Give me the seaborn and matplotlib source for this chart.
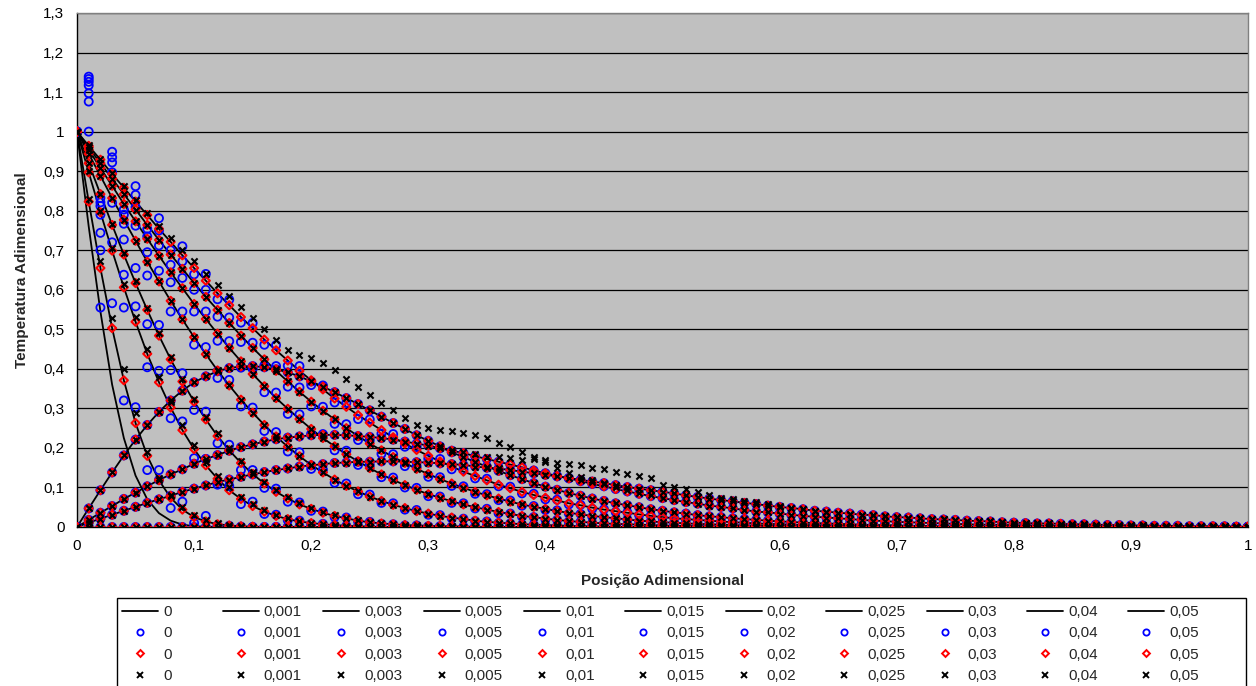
import numpy as np
import pandas as pd
import matplotlib
matplotlib.use("Agg")
import matplotlib.pyplot as plt
from matplotlib.lines import Line2D
from matplotlib.patches import Rectangle
import seaborn as sns

sns.set_theme(style="white")
plt.rcParams["font.family"] = ["Liberation Sans", "DejaVu Sans"]

N_NODES = 101
POS = np.round(np.linspace(0.0, 1.0, N_NODES), 2)

TIME_LABELS = ["0", "0,001", "0,003", "0,005", "0,01", "0,015",
               "0,02", "0,025", "0,03", "0,04", "0,05"]

# ---- analytic profiles (nodes 0.00, 0.01, 0.02, ... ; omitted tail = 0) ----
EXACT_T0 = [1, .76, .545, .36, .225, .13, .07, .035, .016, .006, .002, .001]
EXACT_T001 = [1, .823, .655, .503, .371, .263, .180, .118, .074, .044, .025, .014,
              .007, .004, .002, .001]
EXACT_T003 = [1, .897, .796, .699, .606, .519, .438, .366, .302, .245, .197, .156,
              .122, .093, .071, .053, .039, .028, .020, .014, .010, .007, .005, .003,
              .002, .001]
EXACT_T005 = [1, .920, .842, .764, .689, .617, .549, .484, .424, .368, .317, .272,
              .230, .194, .162, .134, .110, .089, .072, .057, .046, .036, .028, .022,
              .016, .012, .009, .007, .005, .004, .003, .002, .002, .001, .001]
EXACT_T01 = [1, .944, .888, .832, .777, .724, .671, .621, .572, .525, .480, .437,
             .396, .358, .322, .289, .258, .229, .203, .179, .157, .138, .120, .104,
             .090, .077, .066, .056, .048, .040, .034, .028, .024, .020, .016, .013,
             .011, .009, .007, .006, .005, .004, .003, .002, .002, .001, .001]
EXACT_T015 = [1, .954, .908, .863, .817, .773, .729, .686, .644, .604, .564, .526,
              .489, .453, .419, .387, .356, .326, .299, .273, .248, .225, .204, .184,
              .166, .149, .133, .119, .106, .094, .083, .074, .065, .057, .050, .044,
              .038, .033, .028, .025, .021, .018, .015, .013, .011, .009, .008, .007,
              .006, .005, .004, .003, .003, .002, .002, .001, .001, .001]
EXACT_T02 = [1, .960, .920, .881, .842, .803, .764, .726, .689, .653, .617, .582,
             .549, .516, .484, .453, .424, .395, .368, .342, .317, .294, .272, .250,
             .230, .211, .194, .177, .162, .147, .134, .121, .110, .099, .089, .080,
             .072, .064, .057, .051, .046, .040, .036, .032, .028, .025, .022, .019,
             .016, .014, .012, .011, .009, .008, .007, .006, .005, .004, .004, .003,
             .003, .002, .002, .002, .001, .001, .001]
EXACT_T025 = [1, .964, .929, .893, .858, .823, .789, .754, .721, .687, .655, .623,
              .591, .561, .531, .503, .474, .447, .421, .395, .371, .348, .325, .304,
              .283, .264, .245, .227, .211, .195, .180, .166, .153, .140, .129, .118,
              .107, .098, .089, .081, .074, .067, .060, .055, .049, .044, .040, .036,
              .032, .028, .025, .022, .020, .018, .016, .014, .012, .011, .009, .008,
              .007, .006, .005, .005, .004, .004, .003, .003, .002, .002, .002, .001,
              .001, .001]
EXACT_T03 = [0, .047, .093, .138, .181, .221, .258, .291, .320, .345, .366, .381,
             .394, .402, .406, .407, .404, .399, .391, .381, .368, .355, .341, .326,
             .311, .295, .279, .263, .248, .232, .218, .204, .189, .177, .164, .153,
             .142, .131, .121, .111, .102, .094, .086, .079, .072, .066, .060, .055,
             .050, .045, .041, .037, .034, .030, .027, .025, .022, .020, .018, .016,
             .014, .013, .011, .010, .009, .008, .007, .006, .005, .005, .004, .003,
             .003, .002, .002, .001, .001, .001, .001]
EXACT_T04 = [0, .018, .036, .053, .071, .087, .103, .119, .133, .146, .160, .172,
             .182, .193, .202, .209, .216, .222, .226, .229, .232, .233, .233, .232,
             .230, .228, .225, .221, .216, .211, .206, .199, .193, .187, .179, .172,
             .165, .158, .151, .143, .136, .129, .123, .116, .109, .103, .096, .090,
             .084, .078, .073, .068, .063, .059, .054, .051, .047, .043, .039, .037,
             .034, .031, .028, .026, .024, .022, .020, .018, .016, .015, .013, .012,
             .011, .010, .009, .008, .007, .006, .006, .005, .005, .004, .004, .003,
             .003, .002, .002, .002, .001, .001, .001, .001, .001]
EXACT_T05 = [0, .011, .021, .031, .041, .051, .061, .070, .079, .089, .097, .105,
             .114, .120, .127, .133, .139, .144, .148, .153, .156, .159, .162, .163,
             .165, .165, .166, .166, .165, .164, .163, .161, .159, .157, .153, .150,
             .148, .144, .140, .136, .132, .128, .124, .119, .115, .111, .106, .101,
             .097, .093, .089, .085, .080, .076, .072, .068, .065, .061, .058, .054,
             .051, .048, .045, .041, .039, .036, .034, .031, .030, .027, .025, .024,
             .022, .020, .019, .018, .016, .015, .014, .012, .011, .010, .009, .009,
             .008, .007, .007, .006, .005, .005, .004, .004, .003, .003, .003, .002,
             .002, .002, .002, .001, .001]

# ---- explicit scheme (blue circles) ----
EXPL_T0 = [1.0]
EXPL_T001 = [1, 1.0, .555, .566, .32, .303, .144, .144, .048, .064, .01, .028,
             .004, .003, .001]
EXPL_T003 = [1, 1.076, .70, .72, .555, .558, .404, .395, .275, .267, .174, .172,
             .107, .104, .058, .064, .033, .031, .017, .016, .008, .008, .004, .003,
             .001]
EXPL_T005 = [1, 1.097, .744, .82, .638, .655, .513, .511, .397, .389, .296, .292,
             .212, .208, .144, .144, .099, .097, .064, .062, .041, .039, .025, .024,
             .014, .013, .008, .007, .004, .004, .002, .002, .001]
EXPL_T01 = [1, 1.117, .79, .897, .727, .762, .636, .648, .545, .545, .461, .455,
            .377, .372, .305, .302, .243, .24, .191, .189, .147, .145, .112, .11,
            .083, .082, .061, .06, .044, .043, .031, .03, .022, .021, .015, .014,
            .01, .009, .006, .006, .004, .003, .002, .002, .001, .001]
EXPL_T015 = [1, 1.126, .812, .922, .767, .809, .695, .712, .619, .63, .545, .545,
             .471, .47, .403, .40, .341, .34, .286, .285, .236, .235, .194, .193,
             .157, .156, .126, .125, .100, .099, .078, .077, .061, .060, .047, .046,
             .035, .034, .026, .025, .019, .018, .014, .013, .010, .009, .007, .006,
             .005, .004, .003, .003, .002, .002, .001, .001]
EXPL_T02 = [1, 1.133, .821, .935, .79, .84, .735, .75, .663, .672, .60, .60,
            .532, .53, .468, .466, .409, .407, .355, .353, .305, .304, .261, .26,
            .220, .219, .185, .184, .154, .153, .127, .126, .104, .103, .084, .083,
            .068, .067, .054, .053, .043, .042, .034, .033, .026, .025, .020, .019,
            .015, .014, .011, .011, .008, .008, .006, .006, .005, .004, .003, .003,
            .002, .002, .002, .002, .001, .001]
EXPL_T025 = [1, 1.139, .832, .949, .803, .862, .754, .781, .70, .71, .639, .64,
             .576, .575, .517, .516, .461, .46, .408, .407, .359, .358, .315, .314,
             .273, .272, .236, .235, .203, .202, .173, .172, .146, .145, .123, .122,
             .103, .102, .085, .084, .070, .069, .057, .056, .046, .045, .038, .037,
             .030, .029, .024, .023, .019, .018, .015, .014, .012, .011, .009, .008,
             .007, .006, .005, .005, .004, .004, .003, .003, .002, .002, .002, .001,
             .001, .001]
EXPL_T03 = EXACT_T03
EXPL_T04 = EXACT_T04
EXPL_T05 = EXACT_T05

# ---- Crank-Nicolson scheme (red diamonds) ----
CN_T0 = [1.0]
CN_T001, CN_T003, CN_T005 = EXACT_T001, EXACT_T003, EXACT_T005
CN_T01, CN_T015, CN_T02 = EXACT_T01, EXACT_T015, EXACT_T02
CN_T025, CN_T03, CN_T04, CN_T05 = EXACT_T025, EXACT_T03, EXACT_T04, EXACT_T05

# ---- implicit scheme (black crosses) ----
IMPL_T0 = [1.0]
IMPL_T001 = [1, .83, .672, .528, .40, .288, .19, .125, .08, .05, .03, .017, .009,
             .005, .002, .001]
IMPL_T003 = [1, .90, .80, .705, .615, .53, .45, .38, .315, .258, .208, .165, .13,
             .10, .077, .058, .043, .031, .022, .016, .011, .008, .005, .003, .002,
             .001]
IMPL_T005 = [1, .92, .842, .767, .693, .622, .555, .49, .43, .375, .325, .279, .237,
             .20, .168, .14, .115, .094, .076, .061, .049, .039, .03, .024, .018,
             .013, .01, .008, .006, .004, .003, .002, .002, .001, .001]
IMPL_T01, IMPL_T015, IMPL_T02 = EXACT_T01, EXACT_T015, EXACT_T02
IMPL_T025 = [1, .965, .93, .896, .862, .828, .795, .762, .73, .70, .672, .64, .613,
             .583, .556, .528, .50, .473, .448, .435, .427, .414, .397, .374, .354,
             .334, .313, .296, .276, .258, .25, .246, .243, .238, .232, .225, .212,
             .202, .19, .177, .165, .162, .16, .156, .15, .147, .14, .134, .128,
             .123, .106, .10, .095, .088, .08, .074, .07, .066, .062, .058, .052,
             .048, .045, .041, .039, .036, .034, .031, .030, .027, .025, .024,
             .022, .020, .019, .018, .016, .015, .014, .012, .011, .010, .009, .009,
             .008, .007, .007, .006, .005, .005, .004, .004, .003, .003, .003, .002,
             .002, .002, .002, .001, .001]
IMPL_T03 = EXACT_T03
IMPL_T04 = [0, .018, .036, .053, .071, .087, .103, .119, .133, .146, .160, .172,
            .182, .193, .202, .209, .216, .222, .226, .229, .232, .233, .233, .232,
            .230, .228, .225, .221, .216, .211, .206, .200, .196, .190, .185, .178,
            .178, .174, .170, .172, .170, .149, .137, .127, .118, .110, .102, .094,
            .087, .080, .074, .068, .063, .059, .054, .051, .047, .043, .039, .037,
            .034, .031, .028, .026, .024, .022, .020, .018, .016, .015, .013, .012,
            .011, .010, .009, .008, .007, .006, .006, .005, .005, .004, .004, .003,
            .003, .002, .002, .002, .001, .001, .001, .001, .001]
IMPL_T05 = EXACT_T05

EXACT = [EXACT_T0, EXACT_T001, EXACT_T003, EXACT_T005, EXACT_T01, EXACT_T015,
         EXACT_T02, EXACT_T025, EXACT_T03, EXACT_T04, EXACT_T05]
EXPLICIT = [EXPL_T0, EXPL_T001, EXPL_T003, EXPL_T005, EXPL_T01, EXPL_T015,
            EXPL_T02, EXPL_T025, EXPL_T03, EXPL_T04, EXPL_T05]
CRANK = [CN_T0, CN_T001, CN_T003, CN_T005, CN_T01, CN_T015,
         CN_T02, CN_T025, CN_T03, CN_T04, CN_T05]
IMPLICIT = [IMPL_T0, IMPL_T001, IMPL_T003, IMPL_T005, IMPL_T01, IMPL_T015,
            IMPL_T02, IMPL_T025, IMPL_T03, IMPL_T04, IMPL_T05]


def full_profile(values):
    """Nodes past the listed ones carry zero temperature."""
    out = np.zeros(N_NODES)
    out[:len(values)] = values
    return out


def long_table(profiles, kind):
    frames = []
    for label, vals in zip(TIME_LABELS, profiles):
        frames.append(pd.DataFrame({"pos": POS, "temp": full_profile(vals),
                                    "time": label, "kind": kind}))
    return pd.concat(frames, ignore_index=True)


exact_df = long_table(EXACT, "exata")
expl_df = long_table(EXPLICIT, "explicito")
cn_df = long_table(CRANK, "crank")
impl_df = long_table(IMPLICIT, "implicito")

W, H = 1256, 686
fig = plt.figure(figsize=(W / 100, H / 100), dpi=100)
ax = fig.add_axes([77 / W, (H - 527) / H, (1248 - 77) / W, (527 - 13) / H])
ax.set_facecolor("#C0C0C0")

for label in TIME_LABELS:
    sub = exact_df[exact_df["time"] == label]
    sns.lineplot(data=sub, x="pos", y="temp", ax=ax, color="black", lw=1.3,
                 estimator=None, sort=False, legend=False, zorder=3)

sns.scatterplot(data=expl_df, x="pos", y="temp", ax=ax, marker="o", s=34,
                facecolor="none", edgecolor="#0000FF", linewidth=1.3,
                legend=False, zorder=4)
sns.scatterplot(data=cn_df, x="pos", y="temp", ax=ax, marker="D", s=17,
                facecolor="none", edgecolor="#FF0000", linewidth=1.5,
                legend=False, zorder=5)
sns.scatterplot(data=impl_df, x="pos", y="temp", ax=ax, marker="x", s=20,
                color="black", edgecolor="black", linewidth=1.5,
                legend=False, zorder=6)

ax.set_xlim(0, 1)
ax.set_ylim(0, 1.3)
xt = np.round(np.arange(0, 1.01, 0.1), 1)
yt = np.round(np.arange(0, 1.31, 0.1), 1)
ax.set_xticks(xt)
ax.set_yticks(yt)
fmt = lambda v: ("%g" % v).replace(".", ",")
ax.set_xticklabels([fmt(v) for v in xt], fontsize=11)
ax.set_yticklabels([fmt(v) for v in yt], fontsize=11)
ax.tick_params(axis="both", direction="out", length=4, width=1, color="black",
               pad=5, labelcolor="black")
ax.yaxis.grid(True, color="black", lw=0.9)
ax.set_axisbelow(True)
for side in ("top", "right"):
    ax.spines[side].set_color("#808080")
    ax.spines[side].set_linewidth(1)
for side in ("left", "bottom"):
    ax.spines[side].set_color("black")
    ax.spines[side].set_linewidth(1)

ax.set_xlabel("Posição Adimensional", fontsize=11, fontweight="bold", labelpad=15)
ax.set_ylabel("Temperatura Adimensional", fontsize=11, fontweight="bold", labelpad=10)

# legend box: one column of four entries per time level
fig.add_artist(Rectangle((117 / W, -0.01), (1246 - 117) / W, 0.01 + 1 - 598 / H,
                         transform=fig.transFigure, facecolor="white",
                         edgecolor="black", lw=1, zorder=1))
col_step = 100.6
for k, label in enumerate(TIME_LABELS):
    col_handles = [
        Line2D([], [], color="black", lw=1.3),
        Line2D([], [], ls="none", marker="o", ms=4.5, mfc="none", mec="#0000FF", mew=1.3),
        Line2D([], [], ls="none", marker="D", ms=3.5, mfc="none", mec="#FF0000", mew=1.4),
        Line2D([], [], ls="none", marker="x", ms=4, color="black", mew=1.4),
    ]
    leg = fig.legend(col_handles, [label] * 4, loc="upper left",
                     bbox_to_anchor=((122 + k * col_step) / W, 1 - 605 / H),
                     fontsize=11, frameon=False, borderpad=0, borderaxespad=0,
                     labelspacing=0.48, handlelength=2.35, handletextpad=0.33)
    leg.set_zorder(2)

fig.savefig("out.png", dpi=100)
